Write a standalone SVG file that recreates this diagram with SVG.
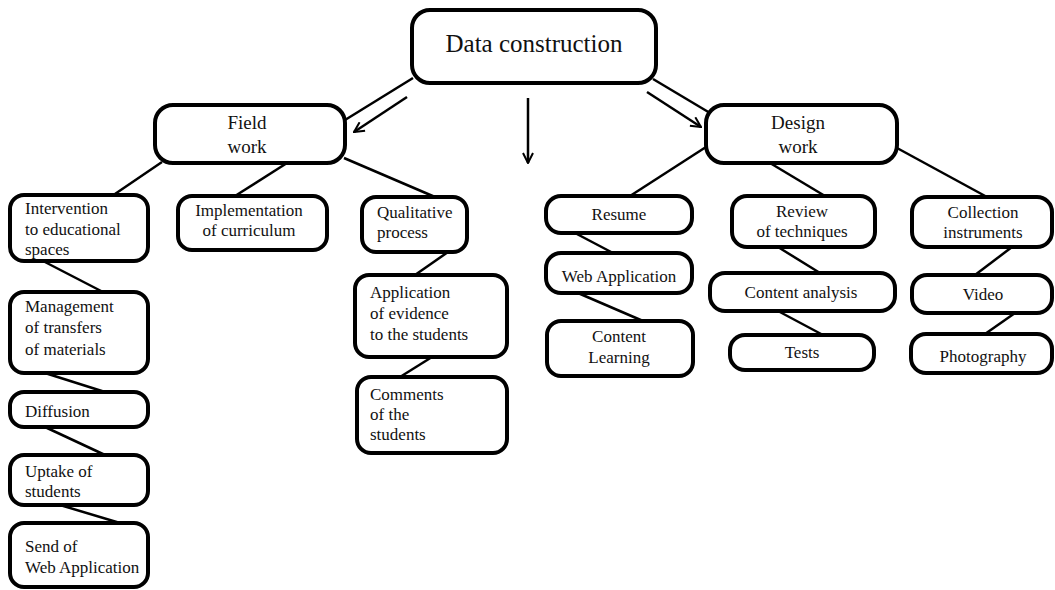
<svg xmlns="http://www.w3.org/2000/svg" width="1055" height="590" viewBox="0 0 1055 590">
<defs>
<marker id="ah" viewBox="0 0 12 12" refX="11" refY="6" markerWidth="12" markerHeight="12" markerUnits="userSpaceOnUse" orient="auto">
<path d="M1,1 L11,6 L1,11" fill="none" stroke="#000" stroke-width="2"/>
</marker>
</defs>
<style>
.box{fill:#fff;stroke:#000;stroke-width:4}
.t{font-family:"Liberation Serif","Times New Roman",serif;fill:#111;font-size:17px}
.c{text-anchor:middle}
.conn line{stroke:#000;stroke-width:2.5}
.arr{marker-end:url(#ah)}
</style>
<rect width="1055" height="590" fill="#fff"/>
<g class="conn" id="connectors">
<line x1="413" y1="78" x2="345" y2="120"/>
<line class="arr" x1="407" y1="97" x2="354" y2="132"/>
<line class="arr" x1="528" y1="98" x2="528" y2="163"/>
<line x1="653" y1="79" x2="710" y2="113"/>
<line class="arr" x1="647" y1="92" x2="701" y2="127"/>
<line x1="162" y1="162" x2="112" y2="196"/>
<line x1="287" y1="163" x2="235" y2="196"/>
<line x1="344" y1="158" x2="435" y2="197"/>
<line x1="43" y1="261" x2="103" y2="292"/>
<line x1="45" y1="373" x2="105" y2="392"/>
<line x1="45" y1="427" x2="105" y2="455"/>
<line x1="60" y1="505" x2="120" y2="523"/>
<line x1="448" y1="252" x2="415" y2="275"/>
<line x1="432" y1="357" x2="400" y2="377"/>
<line x1="706" y1="147" x2="630" y2="196"/>
<line x1="770" y1="163" x2="825" y2="196"/>
<line x1="897" y1="148" x2="987" y2="197"/>
<line x1="575" y1="233" x2="613" y2="253"/>
<line x1="578" y1="293" x2="643" y2="321"/>
<line x1="778" y1="247" x2="820" y2="273"/>
<line x1="778" y1="311" x2="823" y2="335"/>
<line x1="1012" y1="247" x2="975" y2="275"/>
<line x1="1015" y1="313" x2="985" y2="334"/>
</g>
<g id="data-construction"><rect class="box" x="412" y="10" width="244" height="73" rx="18"/><text class="t c" x="534" y="52" style="font-size:25px">Data construction</text></g>
<g id="field-work"><rect class="box" x="155" y="105" width="190" height="58" rx="18"/><text class="t c" x="247" y="129" style="font-size:19px">Field</text><text class="t c" x="247" y="153" style="font-size:19px">work</text></g>
<g id="design-work"><rect class="box" x="706" y="105" width="191" height="58" rx="18"/><text class="t c" x="798" y="129" style="font-size:19px">Design</text><text class="t c" x="798" y="153" style="font-size:19px">work</text></g>
<g id="intervention"><rect class="box" x="10" y="195" width="138" height="66" rx="14"/><text class="t" x="25" y="214">Intervention</text><text class="t" x="25" y="235">to educational</text><text class="t" x="25" y="255">spaces</text></g>
<g id="management"><rect class="box" x="10" y="292" width="138" height="81" rx="14"/><text class="t" x="25" y="312">Management</text><text class="t" x="25" y="333">of transfers</text><text class="t" x="25" y="355">of materials</text></g>
<g id="diffusion"><rect class="box" x="10" y="392" width="138" height="35" rx="14"/><text class="t" x="25" y="417">Diffusion</text></g>
<g id="uptake"><rect class="box" x="10" y="455" width="138" height="50" rx="14"/><text class="t" x="25" y="477">Uptake of</text><text class="t" x="25" y="497">students</text></g>
<g id="send"><rect class="box" x="10" y="523" width="138" height="64" rx="14"/><text class="t" x="25" y="552">Send of</text><text class="t" x="25" y="573">Web Application</text></g>
<g id="implementation"><rect class="box" x="178" y="196" width="149" height="54" rx="14"/><text class="t c" x="249" y="216">Implementation</text><text class="t c" x="249" y="236">of curriculum</text></g>
<g id="qualitative"><rect class="box" x="362" y="197" width="105" height="55" rx="14"/><text class="t" x="377" y="218">Qualitative</text><text class="t" x="377" y="238">process</text></g>
<g id="application"><rect class="box" x="355" y="275" width="152" height="82" rx="14"/><text class="t" x="370" y="298">Application</text><text class="t" x="370" y="319">of evidence</text><text class="t" x="370" y="340">to the students</text></g>
<g id="comments"><rect class="box" x="357" y="377" width="150" height="76" rx="14"/><text class="t" x="370" y="400">Comments</text><text class="t" x="370" y="420">of the</text><text class="t" x="370" y="440">students</text></g>
<g id="resume"><rect class="box" x="546" y="196" width="146" height="37" rx="15"/><text class="t c" x="619" y="220">Resume</text></g>
<g id="web-application"><rect class="box" x="546" y="253" width="146" height="40" rx="15"/><text class="t c" x="619" y="282">Web Application</text></g>
<g id="content-learning"><rect class="box" x="547" y="321" width="146" height="55" rx="14"/><text class="t c" x="619" y="342">Content</text><text class="t c" x="619" y="363">Learning</text></g>
<g id="review"><rect class="box" x="732" y="196" width="143" height="51" rx="15"/><text class="t c" x="802" y="217">Review</text><text class="t c" x="802" y="237">of techniques</text></g>
<g id="content-analysis"><rect class="box" x="710" y="273" width="185" height="38" rx="15"/><text class="t c" x="801" y="298">Content analysis</text></g>
<g id="tests"><rect class="box" x="730" y="335" width="144" height="35" rx="15"/><text class="t c" x="802" y="358">Tests</text></g>
<g id="collection"><rect class="box" x="912" y="197" width="140" height="50" rx="15"/><text class="t c" x="983" y="218">Collection</text><text class="t c" x="983" y="238">instruments</text></g>
<g id="video"><rect class="box" x="912" y="275" width="140" height="38" rx="15"/><text class="t c" x="983" y="300">Video</text></g>
<g id="photography"><rect class="box" x="911" y="334" width="141" height="39" rx="15"/><text class="t c" x="983" y="362">Photography</text></g>
</svg>
